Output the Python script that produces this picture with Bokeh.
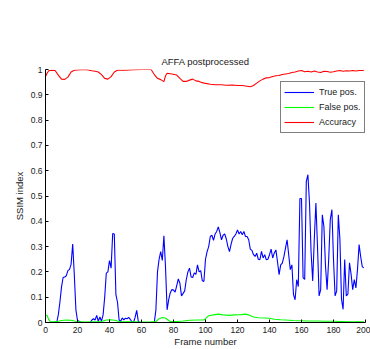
from bokeh.plotting import figure
from bokeh.models import Range1d, FixedTicker, Legend, LegendItem
from bokeh.embed import file_html
from bokeh.resources import INLINE

# ---------------- data ----------------
tp_frames = list(range(0, 200))
tp_values = [
    0.0, 0.0, 0.0, 0.0, 0.0, 0.0, 0.0, 0.0, 0.03, 0.08,            # 0-9
    0.14, 0.178, 0.18, 0.185, 0.205, 0.21, 0.23, 0.31, 0.19, 0.05,  # 10-19
    0.008, 0.005, 0.0, 0.0, 0.0, 0.0, 0.0, 0.0, 0.0, 0.01,          # 20-29
    0.015, 0.01, 0.028, 0.005, 0.022, 0.005, 0.03, 0.1, 0.195, 0.2,  # 30-39
    0.245, 0.215, 0.352, 0.35, 0.11, 0.08, 0.01, 0.005, 0.018, 0.01, # 40-49
    0.017, 0.015, 0.02, 0.012, 0.003, 0.0, 0.02, 0.048, 0.005, 0.0,  # 50-59
    0.0, 0.0, 0.0, 0.0, 0.0, 0.0, 0.0, 0.0, 0.0, 0.05,              # 60-69
    0.2, 0.25, 0.28, 0.245, 0.343, 0.22, 0.05, 0.09, 0.118, 0.13,   # 70-79
    0.128, 0.12, 0.145, 0.172, 0.155, 0.105, 0.115, 0.125, 0.17, 0.2,   # 80-89
    0.215, 0.18, 0.178, 0.196, 0.19, 0.228, 0.2, 0.205, 0.165, 0.162,   # 90-99
    0.25, 0.28, 0.3, 0.34, 0.345, 0.325, 0.35, 0.36, 0.378, 0.355,      # 100-109
    0.327, 0.345, 0.35, 0.33, 0.3, 0.28, 0.31, 0.333, 0.34, 0.35,       # 110-119
    0.366, 0.35, 0.36, 0.347, 0.36, 0.34, 0.34, 0.327, 0.29, 0.285,     # 120-129
    0.268, 0.261, 0.274, 0.25, 0.248, 0.281, 0.255, 0.268, 0.248, 0.25, # 130-139
    0.268, 0.29, 0.255, 0.275, 0.287, 0.24, 0.189, 0.228, 0.235, 0.26,  # 140-149
    0.294, 0.327, 0.268, 0.209, 0.228, 0.11, 0.09, 0.169, 0.142, 0.49,  # 150-159
    0.49, 0.177, 0.17, 0.557, 0.584, 0.472, 0.276, 0.164, 0.33, 0.472,  # 160-169
    0.3, 0.105, 0.13, 0.426, 0.38, 0.223, 0.13, 0.25, 0.407, 0.446,     # 170-179
    0.249, 0.105, 0.125, 0.426, 0.33, 0.092, 0.052, 0.249, 0.105, 0.112,# 180-189
    0.236, 0.19, 0.13, 0.17, 0.137, 0.21, 0.308, 0.26, 0.22, 0.216,     # 190-199
]

fp_frames = [0, 1, 2, 3, 5, 8, 10, 13, 16, 18, 20, 25, 30, 35, 38, 41, 44, 46,
             50, 55, 60, 65, 69, 71, 73, 75, 77, 78, 82, 86, 90, 95, 99, 100,
             102, 105, 108, 111, 115, 118, 122, 125, 127, 130, 133, 137, 140,
             143, 147, 150, 155, 160, 165, 170, 175, 180, 185, 190, 195, 199]
fp_values = [0.03, 0.028, 0.012, 0.004, 0.003, 0.005, 0.008, 0.01, 0.009, 0.006,
             0.004, 0.002, 0.003, 0.004, 0.01, 0.011, 0.008, 0.004, 0.003, 0.003,
             0.002, 0.002, 0.004, 0.015, 0.02, 0.018, 0.008, 0.004, 0.004, 0.006,
             0.009, 0.01, 0.01, 0.015, 0.027, 0.03, 0.033, 0.03, 0.028, 0.03,
             0.031, 0.033, 0.03, 0.022, 0.019, 0.018, 0.017, 0.013, 0.011, 0.01,
             0.008, 0.007, 0.006, 0.006, 0.005, 0.005, 0.004, 0.003, 0.003, 0.003]

acc_frames = [0, 1, 2, 4, 6, 8, 10, 12, 14, 16, 18, 22, 26, 29, 31, 33, 35, 37,
              39, 41, 43, 45, 50, 55, 60, 66, 68, 70, 72, 74, 75, 76, 79, 82,
              84, 86, 88, 90, 92, 94, 96, 98, 100, 103, 106, 110, 113, 117, 120,
              123, 126, 128, 130, 132, 134, 136, 138, 140, 142, 144, 146, 148,
              150, 152, 154, 156, 158, 160, 162, 164, 166, 168, 170, 172, 174,
              176, 178, 180, 182, 184, 186, 188, 190, 192, 194, 196, 198, 199]
acc_values = [0.972, 0.985, 0.995, 0.997, 0.996, 0.978, 0.962, 0.961, 0.97, 0.99,
              0.997, 0.999, 0.999, 0.995, 0.993, 0.99, 0.98, 0.965, 0.962, 0.972,
              0.99, 0.997, 0.997, 0.999, 1.0, 1.0, 0.98, 0.965, 0.96, 0.952,
              0.975, 0.985, 0.982, 0.978, 0.965, 0.953, 0.953, 0.958, 0.962, 0.955,
              0.953, 0.948, 0.945, 0.942, 0.94, 0.94, 0.938, 0.939, 0.937, 0.937,
              0.934, 0.932, 0.937, 0.946, 0.955, 0.962, 0.967, 0.968, 0.972, 0.975,
              0.976, 0.98, 0.982, 0.984, 0.988, 0.99, 0.994, 0.996, 0.991, 0.993,
              0.99, 0.994, 0.99, 0.988, 0.993, 0.992, 0.989, 0.991, 0.994, 0.996,
              0.993, 0.995, 0.994, 0.996, 0.994, 0.996, 0.996, 0.997]

series_names = ["True pos.", "False pos.", "Accuracy"]
x_ticks = [0, 20, 40, 60, 80, 100, 120, 140, 160, 180, 200]
y_ticks = [0, 0.1, 0.2, 0.3, 0.4, 0.5, 0.6, 0.7, 0.8, 0.9, 1]
y_tick_labels = ["0", "0.1", "0.2", "0.3", "0.4", "0.5", "0.6", "0.7", "0.8", "0.9", "1"]
title_text = "AFFA postprocessed"
x_label = "Frame number"
y_label = "SSIM index"

# ---------------- figure ----------------
FONT = "Liberation Sans"
TXT = "#1a1a1a"

p = figure(width=370, height=349, output_backend="svg", toolbar_location=None,
           x_range=Range1d(0, 200), y_range=Range1d(0, 1),
           min_border_left=45, min_border_right=5, min_border_top=69,
           min_border_bottom=26)
p.outline_line_color = None
p.xgrid.visible = False
p.ygrid.visible = False
p.background_fill_color = "white"
p.border_fill_color = "white"

p.title.text = title_text
p.title.align = "center"
p.title.text_font = FONT
p.title.text_font_size = "9.5px"
p.title.text_font_style = "normal"
p.title.text_color = TXT
p.title.standoff = 5

for ax in (p.xaxis[0], p.yaxis[0]):
    ax.axis_line_color = "black"
    ax.major_tick_line_color = "black"
    ax.major_tick_in = 3
    ax.major_tick_out = 0
    ax.minor_tick_line_color = None
    ax.major_label_text_font = FONT
    ax.major_label_text_font_size = "8.5px"
    ax.major_label_text_color = TXT
    ax.axis_label_text_font = FONT
    ax.axis_label_text_font_size = "9.5px"
    ax.axis_label_text_font_style = "normal"
    ax.axis_label_text_color = TXT

p.xaxis.ticker = FixedTicker(ticks=x_ticks)
p.yaxis.ticker = FixedTicker(ticks=y_ticks)
p.yaxis.major_label_overrides = {t: l for t, l in zip(y_ticks, y_tick_labels)}
p.xaxis.axis_label = x_label
p.yaxis.axis_label = y_label
p.xaxis.major_label_standoff = 4
p.xaxis.axis_label_standoff = 0
p.yaxis.major_label_standoff = 3
p.yaxis.axis_label_standoff = 3

r_tp = p.line(tp_frames, tp_values, line_color="#0000FF", line_width=1.1)
r_fp = p.line(fp_frames, fp_values, line_color="#00FF00", line_width=1.1)
r_acc = p.line(acc_frames, acc_values, line_color="#FF0000", line_width=1.1)

legend = Legend(items=[LegendItem(label=series_names[0], renderers=[r_tp]),
                       LegendItem(label=series_names[1], renderers=[r_fp]),
                       LegendItem(label=series_names[2], renderers=[r_acc])],
                location=(235, 189))
legend.border_line_color = "black"
legend.border_line_width = 1
legend.background_fill_color = "white"
legend.background_fill_alpha = 1
legend.label_text_font = FONT
legend.label_text_font_size = "9px"
legend.label_text_color = TXT
legend.glyph_width = 30
legend.glyph_height = 14
legend.label_height = 14
legend.label_standoff = 5
legend.spacing = 1
legend.padding = 3
legend.margin = 0
p.add_layout(legend)

open("out.html", "w").write(file_html(p, INLINE))
